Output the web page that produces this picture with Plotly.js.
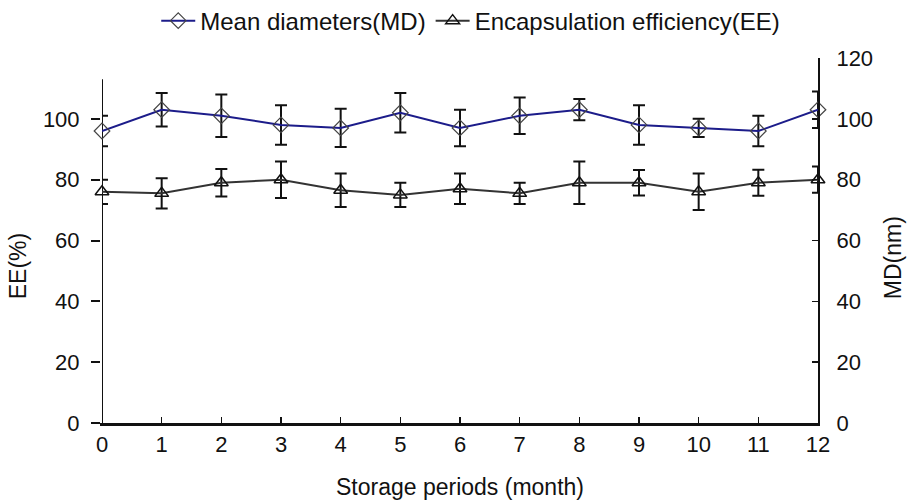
<!DOCTYPE html>
<html>
<head>
<meta charset="utf-8">
<script src="https://cdn.plot.ly/plotly-3.0.1.min.js"></script>
<style>html,body{margin:0;padding:0;background:#fff;}</style>
</head>
<body>
<div id="chart" style="width:907px;height:501px;"></div>
<script>
const months = [0,1,2,3,4,5,6,7,8,9,10,11,12];
const mdValues = [96, 103, 101, 98, 97, 102, 97, 101, 103, 98, 97, 96, 103];
const mdErrors = [5, 5.5, 7, 6.5, 6.3, 6.5, 6, 6, 3.5, 6.5, 3, 5, 6];
const eeValues = [76, 75.5, 79, 80, 76.5, 75, 77, 75.5, 79, 79, 76, 79, 80];
const eeErrors = [4, 5, 4.5, 6, 5.5, 4, 5, 3.5, 7, 4.2, 6, 4.3, 4.3];
const leftTicks = [0, 20, 40, 60, 80, 100];
const rightTicks = [0, 20, 40, 60, 80, 100, 120];
const leftAxisTop = 113;

const fam = '"Liberation Sans", Arial, sans-serif';
const fs = 22;
const ink = '#111';
const font = {family: fam, size: fs, color: ink};

const traces = [
  {
    x: months, y: mdValues, yaxis: 'y2', name: 'Mean diameters(MD)',
    type: 'scatter', mode: 'lines+markers', cliponaxis: false,
    line: {color: '#1c1c8a', width: 2},
    marker: {symbol: 'diamond-open', size: 12, color: '#444', line: {width: 1.2}},
    error_y: {type: 'data', array: mdErrors, visible: true, color: ink, thickness: 2, width: 6}
  },
  {
    x: months, y: eeValues, yaxis: 'y', name: 'Encapsulation efficiency(EE)',
    type: 'scatter', mode: 'lines+markers', cliponaxis: false,
    line: {color: '#333', width: 2},
    marker: {symbol: 'triangle-up-open', size: 12, color: ink, line: {width: 1.5}},
    error_y: {type: 'data', array: eeErrors, visible: true, color: ink, thickness: 2, width: 6}
  }
];

const layout = {
  width: 907, height: 501,
  margin: {l: 102, r: 89, t: 58, b: 78},
  paper_bgcolor: '#fff', plot_bgcolor: '#fff',
  font: font,
  showlegend: true,
  legend: {orientation: 'h', x: 0.515, xanchor: 'center', y: 0.958, yanchor: 'middle',
           yref: 'container', font: {family: fam, size: 24, color: ink},
           itemwidth: 34, tracegroupgap: 0, bgcolor: 'rgba(0,0,0,0)'},
  xaxis: {
    range: [0, 12], tickvals: months, ticktext: months.map(String),
    ticks: 'inside', ticklen: 6, tickwidth: 1.5, tickcolor: ink,
    ticklabelstandoff: 0,
    showline: true, linecolor: ink, linewidth: 2.5, showgrid: false, zeroline: false,
    title: {text: 'Storage periods (month)', font: {family: fam, size: 23, color: ink}, standoff: 23},
    tickfont: {family: fam, size: fs, color: ink}
  },
  yaxis: {
    range: [0, 120], tickvals: leftTicks, ticktext: leftTicks.map(String),
    ticks: 'outside', ticklen: 9, tickwidth: 2, tickcolor: ink,
    ticklabelstandoff: 7,
    showline: true, linecolor: 'rgba(0,0,0,0)', linewidth: 2, showgrid: false, zeroline: false,
    tickfont: {family: fam, size: fs, color: ink}
  },
  yaxis2: {
    range: [0, 120], tickvals: rightTicks, ticktext: rightTicks.map(String),
    overlaying: 'y', side: 'right',
    ticks: 'inside', ticklen: 6, tickwidth: 1.5, tickcolor: ink,
    ticklabelstandoff: 12,
    showline: true, linecolor: ink, linewidth: 2, showgrid: false, zeroline: false,
    tickfont: {family: fam, size: fs, color: ink}
  },
  annotations: [
    {text: 'EE(%)', xref: 'paper', yref: 'paper', x: -0.117, y: 0.43, textangle: -90,
     showarrow: false, xanchor: 'center', yanchor: 'middle', font: {family: fam, size: 23, color: ink}},
    {text: 'MD(nm)', xref: 'paper', yref: 'paper', x: 1.105, y: 0.452, textangle: -90,
     showarrow: false, xanchor: 'center', yanchor: 'middle', font: {family: fam, size: 23, color: ink}}
  ],
  shapes: [
    {type: 'line', xref: 'x', yref: 'y', x0: 0, x1: 0, y0: 0, y1: leftAxisTop,
     line: {color: ink, width: 2}, layer: 'below'}
  ]
};

Plotly.newPlot('chart', traces, layout, {displayModeBar: false, staticPlot: true});
</script>
</body>
</html>
